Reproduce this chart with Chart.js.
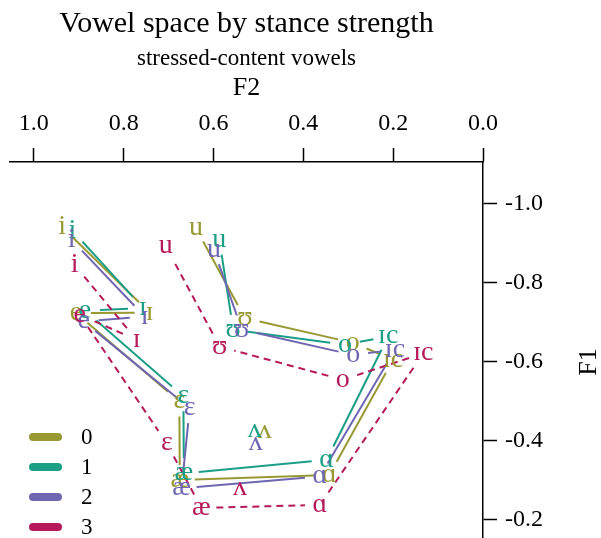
<!DOCTYPE html>
<html>
<head>
<meta charset="utf-8">
<script src="https://cdn.jsdelivr.net/npm/chart.js@4.4.1/dist/chart.umd.min.js"></script>
<style>
  html, body { margin: 0; padding: 0; background: #fff; overflow: hidden; }
  canvas { display: block; }
</style>
</head>
<body>
<canvas id="vowels" width="601" height="538"></canvas>
<script>
const vowels = ['i', 'ɪ', 'e', 'ɛ', 'æ', 'ɑ', 'ɪc', 'o', 'ʊ', 'u', 'ʌ'];
// vowels joined by the outline, in order; ʌ is left on its own
const outline = ['i', 'ɪ', 'e', 'ɛ', 'æ', 'ɑ', 'ɪc', 'o', 'ʊ', 'u'];
const strengths = ['0', '1', '2', '3'];

// normalised F2 / F1 means per stance strength, same order as vowels
const f2Strength0 = [0.937, 0.742, 0.906, 0.676, 0.675, 0.342, 0.200, 0.290, 0.530, 0.639, 0.486];
const f1Strength0 = [-0.941, -0.724, -0.723, -0.499, -0.300, -0.313, -0.605, -0.648, -0.710, -0.938, -0.423];
const f2Strength1 = [0.914, 0.757, 0.886, 0.667, 0.666, 0.348, 0.211, 0.307, 0.556, 0.587, 0.508];
const f1Strength1 = [-0.932, -0.736, -0.729, -0.512, -0.317, -0.351, -0.664, -0.643, -0.681, -0.909, -0.427];
const f2Strength2 = [0.916, 0.753, 0.889, 0.653, 0.671, 0.363, 0.196, 0.289, 0.537, 0.599, 0.506];
const f1Strength2 = [-0.909, -0.714, -0.702, -0.482, -0.279, -0.309, -0.630, -0.617, -0.681, -0.883, -0.393];
const f2Strength3 = [0.909, 0.771, 0.898, 0.704, 0.627, 0.363, 0.133, 0.312, 0.586, 0.706, 0.541];
const f1Strength3 = [-0.845, -0.655, -0.719, -0.393, -0.229, -0.237, -0.621, -0.554, -0.638, -0.892, -0.279];

const f2Ticks = [1.0, 0.8, 0.6, 0.4, 0.2, 0.0];
const f1Ticks = [-1.0, -0.8, -0.6, -0.4, -0.2];

const colors = ['#999933', '#1b9e86', '#6f66b2', '#b5195b'];
const serif = '"Liberation Serif", "Times New Roman", serif';

const f2All = [f2Strength0, f2Strength1, f2Strength2, f2Strength3];
const f1All = [f1Strength0, f1Strength1, f1Strength2, f1Strength3];

const datasets = strengths.map((s, i) => ({
  label: s,
  data: vowels.map((v, k) => ({ x: f2All[i][k], y: f1All[i][k] })),
  borderColor: colors[i],
  backgroundColor: colors[i],
  dashed: i === 3,
  pointRadius: 0,
  showLine: false
}));

const GAP = 15; // space left around each label

const vowelPlot = {
  id: 'vowelPlot',
  afterDatasetsDraw(chart) {
    const ctx = chart.ctx;
    const area = chart.chartArea;
    ctx.save();

    // outlines with gaps at the labels
    chart.data.datasets.forEach((ds, i) => {
      const pts = chart.getDatasetMeta(i).data;
      ctx.strokeStyle = ds.borderColor;
      ctx.lineWidth = 2;
      ctx.setLineDash(ds.dashed ? [7, 5] : []);
      for (let k = 0; k < outline.length - 1; k++) {
        const a = pts[vowels.indexOf(outline[k])];
        const b = pts[vowels.indexOf(outline[k + 1])];
        const dx = b.x - a.x, dy = b.y - a.y;
        const len = Math.hypot(dx, dy);
        if (len <= 2 * GAP) continue;
        const ux = dx / len, uy = dy / len;
        ctx.beginPath();
        ctx.moveTo(a.x + ux * GAP, a.y + uy * GAP);
        ctx.lineTo(b.x - ux * GAP, b.y - uy * GAP);
        ctx.stroke();
      }
    });
    ctx.setLineDash([]);

    // vowel labels
    ctx.font = '28px ' + serif;
    ctx.textAlign = 'center';
    ctx.textBaseline = 'alphabetic';
    chart.data.datasets.forEach((ds, i) => {
      const pts = chart.getDatasetMeta(i).data;
      ctx.fillStyle = ds.borderColor;
      pts.forEach((p, k) => ctx.fillText(vowels[k], p.x, p.y + 7));
    });

    // legend, bottom left inside the panel
    ctx.font = '23px ' + serif;
    ctx.textAlign = 'left';
    ctx.textBaseline = 'middle';
    ctx.lineCap = 'round';
    chart.data.datasets.forEach((ds, i) => {
      const y = area.bottom - 101 + i * 30;
      ctx.strokeStyle = ds.borderColor;
      ctx.lineWidth = 8;
      ctx.beginPath();
      ctx.moveTo(area.left + 23, y);
      ctx.lineTo(area.left + 48, y);
      ctx.stroke();
      ctx.fillStyle = '#000';
      ctx.fillText(ds.label, area.left + 71, y + 1);
    });

    // F1 title, reading upwards
    ctx.font = '26px ' + serif;
    ctx.textAlign = 'center';
    ctx.translate(589, (area.top + area.bottom) / 2 + 12);
    ctx.rotate(-Math.PI / 2);
    ctx.fillText('F1', 0, 0);
    ctx.restore();
  }
};

new Chart(document.getElementById('vowels'), {
  type: 'scatter',
  data: { datasets },
  plugins: [vowelPlot],
  options: {
    responsive: false,
    animation: false,
    layout: { autoPadding: false, padding: { left: 10, top: 0, right: 0, bottom: 0 } },
    plugins: {
      legend: { display: false },
      tooltip: { enabled: false },
      title: {
        display: true,
        text: 'Vowel space by stance strength',
        color: '#000',
        fullSize: false,
        font: { family: serif, size: 30, weight: 'normal' },
        padding: { top: 6, bottom: 0 }
      },
      subtitle: {
        display: true,
        text: 'stressed-content vowels',
        color: '#000',
        fullSize: false,
        font: { family: serif, size: 23, weight: 'normal' },
        padding: { top: 3, bottom: 0 }
      }
    },
    scales: {
      x: {
        type: 'linear',
        position: 'top',
        reverse: true,
        min: 0,
        max: 1.053,
        afterBuildTicks: s => { s.ticks = f2Ticks.map(v => ({ value: v })); },
        afterFit: s => {
          s.height = 89.4;
          s.paddingLeft = 0;
          s.paddingRight = 0;
        },
        grid: { drawOnChartArea: false, drawTicks: true, tickLength: 14, tickWidth: 1.5, tickColor: '#000' },
        border: { display: true, color: '#000', width: 1.5 },
        ticks: {
          color: '#000',
          padding: 10,
          maxRotation: 0,
          font: { family: serif, size: 24 },
          callback: v => v.toFixed(1)
        },
        title: {
          display: true,
          text: 'F2',
          color: '#000',
          font: { family: serif, size: 26 },
          padding: { top: 0, bottom: 0 }
        }
      },
      y: {
        type: 'linear',
        position: 'right',
        reverse: true,
        min: -1.106,
        max: -0.153,
        afterBuildTicks: s => { s.ticks = f1Ticks.map(v => ({ value: v })); },
        afterFit: s => {
          s.width = 118;
          s.paddingTop = 0;
          s.paddingBottom = 0;
        },
        grid: { drawOnChartArea: false, drawTicks: true, tickLength: 14, tickWidth: 1.5, tickColor: '#000' },
        border: { display: true, color: '#000', width: 1.5 },
        ticks: {
          color: '#000',
          padding: 8,
          font: { family: serif, size: 24 },
          callback: v => v.toFixed(1)
        }
      }
    }
  }
});
</script>
</body>
</html>
